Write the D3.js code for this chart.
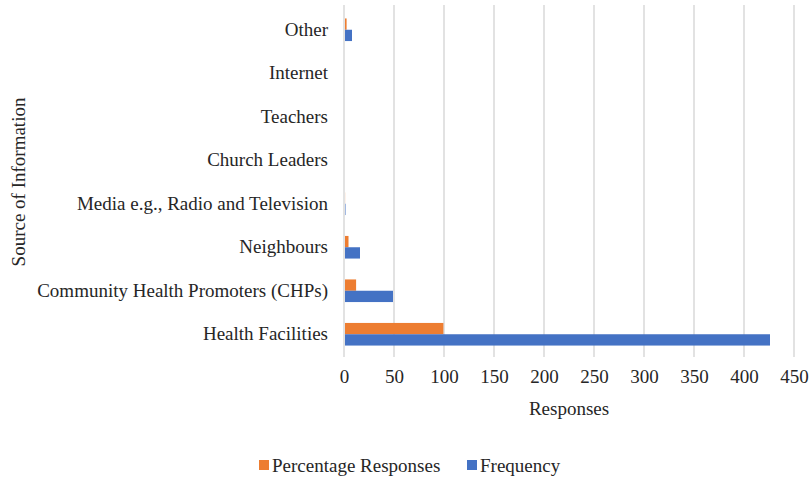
<!DOCTYPE html>
<html>
<head>
<meta charset="utf-8">
<script src="https://cdn.jsdelivr.net/npm/d3@7"></script>
<style>
  html, body { margin: 0; padding: 0; background: #fff; }
  text { font-family: "Liberation Serif", "Times New Roman", serif; fill: #262626; }
</style>
</head>
<body>
<svg id="chart" width="811" height="479"></svg>
<script>
// Sources of information, listed top to bottom
const categories = [
  "Other",
  "Internet",
  "Teachers",
  "Church Leaders",
  "Media e.g., Radio and Television",
  "Neighbours",
  "Community Health Promoters (CHPs)",
  "Health Facilities"
];
const percentageResponses = [1.6, 0, 0, 0, 0.1, 3.5, 11.1, 98.4];
const frequency = [7, 0, 0, 0, 0.5, 15, 48, 425];
const xTicks = [0, 50, 100, 150, 200, 250, 300, 350, 400, 450];
const seriesNames = ["Percentage Responses", "Frequency"];
const seriesColors = ["#ED7D31", "#4472C4"];

const FONT = "19px";
const svg = d3.select("#chart");
const margin = { left: 344, right: 16, top: 8, bottom: 123 };
const width = 811 - margin.left - margin.right;
const height = 479 - margin.top - margin.bottom;

const x = d3.scaleLinear().domain([0, 450]).range([0, 450]);
const y = d3.scaleBand().domain(categories).range([0, height]).paddingInner(0.48).paddingOuter(0.24);
const sub = d3.scaleBand().domain(seriesNames).range([0, y.bandwidth()]);

const g = svg.append("g").attr("transform", `translate(${margin.left},${margin.top})`);

// vertical gridlines
g.append("g").selectAll("line").data(xTicks).join("line")
  .attr("x1", d => x(d)).attr("x2", d => x(d))
  .attr("y1", -3).attr("y2", height + 1)
  .attr("stroke", "#D9D9D9").attr("stroke-width", 1.5);

// bars
const series = [percentageResponses, frequency];
series.forEach((vals, si) => {
  g.append("g").selectAll("rect").data(categories).join("rect")
    .attr("x", x(0) + 1)
    .attr("y", (c) => y(c) + sub(seriesNames[si]))
    .attr("width", (c, i) => Math.max(0, x(vals[i]) - x(0)))
    .attr("height", sub.bandwidth())
    .attr("fill", seriesColors[si]);
});

// x axis tick labels
const xAxis = d3.axisBottom(x).tickValues(xTicks).tickSize(0).tickPadding(14);
const xg = g.append("g").attr("transform", `translate(0,${height})`).call(xAxis);
xg.select(".domain").remove();
xg.selectAll("text").style("font-size", FONT).style("font-family", "'Liberation Serif', serif").attr("fill", "#262626");

// y axis category labels
const yAxis = d3.axisLeft(y).tickSize(0).tickPadding(16);
const yg = g.append("g").call(yAxis);
yg.select(".domain").remove();
yg.selectAll("text").style("font-size", FONT).style("font-family", "'Liberation Serif', serif").attr("fill", "#262626");

// axis titles
svg.append("text").attr("x", margin.left + 225).attr("y", 408).attr("dy", "0.35em")
  .attr("text-anchor", "middle").style("font-size", FONT).text("Responses");
svg.append("text").attr("transform", `translate(18,${margin.top + height / 2}) rotate(-90)`)
  .attr("dy", "0.35em")
  .attr("text-anchor", "middle").style("font-size", FONT).text("Source of Information");

// legend
const legend = svg.append("g").attr("transform", "translate(0,465)");
const legendX = [259, 467];
seriesNames.forEach((name, i) => {
  legend.append("rect").attr("x", legendX[i]).attr("y", -5).attr("width", 10).attr("height", 10).attr("fill", seriesColors[i]);
  legend.append("text").attr("x", legendX[i] + 13).attr("y", 0).attr("dy", "0.35em")
    .style("font-size", FONT).text(name);
});
</script>
</body>
</html>
